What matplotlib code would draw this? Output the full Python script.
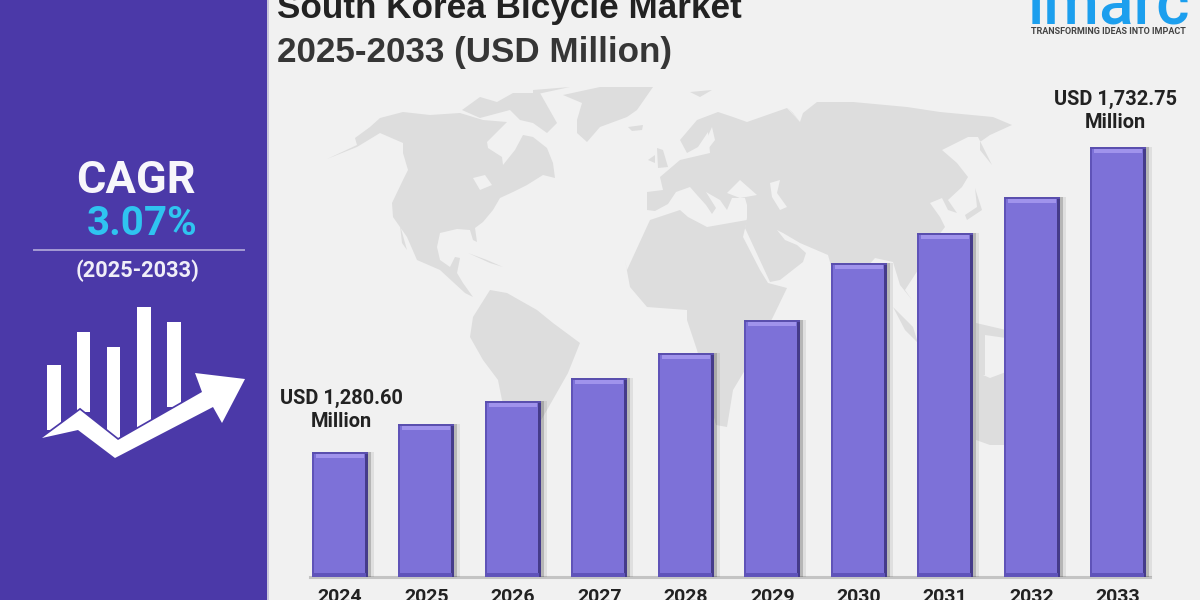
import matplotlib
matplotlib.use("Agg")
import matplotlib.pyplot as plt
from matplotlib.patches import Polygon, Rectangle

years = [2024, 2025, 2026, 2027, 2028, 2029, 2030, 2031, 2032, 2033]
market_size = [1280.60, 1322, 1356, 1390, 1427, 1476, 1561, 1605, 1659, 1732.75]

PANEL = "#4b39a8"
BG = "#f1f1f1"
LAND = "#dddddd"

# rough world map outlines, in image pixels
north_america = [(327, 159), (357, 145), (355, 138), (370, 127), (380, 118), (403, 112), (430, 115), (460, 113),
                 (483, 120), (507, 122), (487, 142), (488, 148), (502, 157), (503, 165), (515, 150), (523, 135),
                 (533, 137), (547, 148), (553, 163), (555, 178), (543, 175), (527, 185), (513, 192), (500, 198),
                 (493, 210), (483, 222), (475, 228), (477, 242), (473, 240), (470, 230), (457, 229), (440, 233),
                 (437, 247), (440, 260), (450, 267), (455, 257), (460, 258), (457, 273), (463, 283), (473, 297),
                 (465, 293), (453, 282), (440, 270), (417, 260), (407, 237), (393, 217), (392, 203), (403, 180),
                 (408, 170), (403, 153), (403, 143), (380, 133), (357, 147)]
baja = [(400, 225), (407, 250), (402, 243)]
arctic = [(462, 110), (480, 97), (497, 102), (513, 93), (540, 93), (557, 123), (547, 133), (533, 123), (520, 120),
          (510, 110), (480, 118)]
arctic_top = [(533, 90), (570, 87), (533, 95)]
greenland = [(563, 95), (600, 87), (653, 87), (637, 110), (627, 117), (600, 127), (587, 142), (577, 133), (577, 120),
             (582, 103)]
iceland = [(628, 127), (643, 125), (642, 130), (632, 131)]
britain = [(657, 148), (663, 150), (668, 167), (658, 168)]
ireland = [(648, 160), (655, 155), (655, 163)]
eurasia = [(647, 192), (647, 210), (655, 211), (668, 204), (676, 192), (690, 187), (697, 195), (706, 205), (712, 214),
           (716, 208), (706, 192), (720, 200), (727, 210), (732, 198), (745, 198), (747, 205), (747, 218), (745, 228),
           (770, 282), (780, 280), (803, 262), (806, 253), (797, 245), (785, 240), (777, 230), (783, 233), (800, 243),
           (828, 255), (835, 280), (845, 305), (860, 275), (875, 258), (893, 262), (900, 285), (912, 300), (905, 290),
           (918, 270), (935, 240), (945, 227), (940, 217), (930, 203), (942, 198), (948, 210), (957, 213), (948, 200),
           (962, 187), (968, 177), (957, 163), (942, 150), (968, 137), (978, 137), (992, 165), (980, 150), (980, 142),
           (990, 135), (1012, 125), (993, 117), (940, 112), (907, 107), (853, 102), (817, 102), (803, 113), (800, 122),
           (787, 108), (747, 122), (733, 117), (718, 112), (697, 120), (680, 140), (687, 153), (698, 147), (708, 132),
           (710, 153), (680, 160), (660, 177), (663, 190)]
japan = [(975, 188), (982, 210), (967, 220), (965, 215), (977, 207)]
novaya = [(788, 108), (800, 122), (793, 113)]
svalbard = [(690, 92), (712, 90), (700, 97)]
indonesia = [(893, 307), (913, 327), (918, 343), (905, 330)]
new_guinea = [(976, 323), (1006, 330), (1006, 338), (985, 335), (985, 375), (976, 375)]
australia = [(976, 372), (990, 378), (1006, 372), (1006, 445), (990, 445), (976, 440)]
africa = [(627, 270), (650, 220), (680, 210), (688, 217), (707, 227), (747, 220), (743, 237), (760, 270), (768, 283),
          (787, 288), (773, 317), (745, 370), (733, 390), (727, 427), (716, 425), (697, 350), (687, 320), (687, 310),
          (647, 307), (630, 287), (625, 260)]
south_america = [(490, 290), (473, 317), (470, 337), (483, 360), (498, 380), (502, 400), (510, 440), (537, 427),
                 (547, 410), (568, 373), (580, 343), (553, 323), (537, 310), (507, 293)]
cuba = [(468, 253), (487, 260), (503, 267), (490, 263)]
land_shapes = [north_america, baja, arctic, arctic_top, greenland, iceland, britain, ireland, eurasia, japan, novaya,
               svalbard, indonesia, new_guinea, australia, africa, south_america, cuba]

black_sea = [(727, 193), (740, 180), (757, 195), (740, 198)]
caspian = [(770, 183), (780, 180), (777, 193), (787, 207), (780, 210), (772, 197)]
baltic = [(712, 127), (703, 147), (697, 150), (705, 153), (715, 140)]
lakes = [(473, 178), (485, 175), (492, 185), (480, 190)]
water_shapes = [black_sea, caspian, baltic, lakes]

# cagr icon
icon_bars = [(47, 365, 14, 65), (77, 332, 13, 80), (107, 347, 13, 92), (137, 307, 14, 120), (167, 322, 14, 85)]
icon_arrow = [(42, 438), (80, 410), (118, 440), (202, 392), (195, 373), (245, 379), (222, 423), (213, 407), (115, 458),
              (78, 430)]

fig = plt.figure(figsize=(12, 6), dpi=100, facecolor=BG)

# background layer in pixel coordinates
bg = fig.add_axes([0, 0, 1, 1], zorder=0)
bg.set_xlim(0, 1200)
bg.set_ylim(600, 0)
bg.axis("off")

for shape in land_shapes:
    bg.add_patch(Polygon(shape, closed=True, fc=LAND, ec="none"))
for shape in water_shapes:
    bg.add_patch(Polygon(shape, closed=True, fc=BG, ec="none"))

bg.add_patch(Rectangle((0, 0), 267, 600, fc=PANEL, ec="none"))
bg.add_patch(Rectangle((267, 0), 2, 600, fc="#c9c6dc", ec="none"))
bg.plot([34, 244], [250, 250], color="#a59bd4", lw=1.4)

for x, y, w, h in icon_bars:
    bg.add_patch(Rectangle((x, y), w, h, fc="white", ec="none"))
bg.add_patch(Polygon(icon_arrow, closed=True, fc="white", ec=PANEL, lw=2.5, joinstyle="miter"))
bg.add_patch(Polygon(icon_arrow, closed=True, fc="white", ec="none"))

bg.text(136, 193, "CAGR", family="Roboto", weight="bold", fontsize=32.5, color="#f7f6fb", ha="center", va="baseline")
bg.text(142, 235, "3.07%", family="Roboto", weight="bold", fontsize=29, color="#2fc4f0", ha="center", va="baseline")
bg.text(138, 277, "(2025-2033)", family="Roboto", weight="bold", fontsize=15.7, color="#f0eef8", ha="center",
        va="baseline")

bg.text(277, 18, "South Korea Bicycle Market", family="Liberation Sans", weight="bold", fontsize=25.3, color="#222222",
        va="baseline")
bg.text(277, 62, "2025-2033 (USD Million)", family="Liberation Sans", weight="bold", fontsize=25.2, color="#363636",
        va="baseline")

bg.text(1108, 23, "imarc", family="Roboto", weight="medium", fontsize=46, color="#1c9fee", ha="center", va="baseline")
bg.text(1108, 34, "TRANSFORMING IDEAS INTO IMPACT", family="Roboto", weight="bold", fontsize=6.5, color="#444444",
        ha="center", va="baseline")

# bars on their own axes: year and USD scales line up with the picture
PX_PER_YEAR = 86.44
PX_PER_USD = 0.6746
BASE_USD = market_size[0] - 125 / PX_PER_USD
ax = fig.add_axes([268 / 1200, 23 / 600, 932 / 1200, 577 / 600], zorder=1)
ax.patch.set_alpha(0)
ax.set_xlim(years[0] - 72 / PX_PER_YEAR, years[0] + 860 / PX_PER_YEAR)
ax.set_ylim(BASE_USD, BASE_USD + 577 / PX_PER_USD)
for side in ax.spines.values():
    side.set_visible(False)

dx = 1 / PX_PER_YEAR
dy = 1 / PX_PER_USD
width = 56 * dx

ax.plot([years[0] - 30 * dx, years[-1] + 32 * dx], [BASE_USD, BASE_USD], color="#c4c4c4", lw=2.2, zorder=1,
        clip_on=False)

xs = years
heights = [v - BASE_USD for v in market_size]
# soft drop shadow to the right
ax.bar([x + 4 * dx for x in xs], heights, width=width + 4 * dx, bottom=BASE_USD, color="#000000", alpha=0.07, zorder=2)
ax.bar([x + 2 * dx for x in xs], heights, width=width + 2 * dx, bottom=BASE_USD, color="#000000", alpha=0.18, zorder=2)
# body
ax.bar(xs, heights, width=width, bottom=BASE_USD, color="#7d71d8", zorder=3)
# bevel edges
ax.bar([x - 27 * dx for x in xs], heights, width=2 * dx, bottom=BASE_USD, color="#5f53b8", zorder=4)
ax.bar([x + 26.5 * dx for x in xs], heights, width=3 * dx, bottom=BASE_USD, color="#453b8a", zorder=4)
ax.bar(xs, 4 * dy, width=width - 4 * dx, bottom=BASE_USD, color="#5f53ba", zorder=4)
ax.bar(xs, 2 * dy, width=width, bottom=[v - 2 * dy for v in market_size], color="#5a4fae", zorder=5)
ax.bar(xs, 4 * dy, width=width - 8 * dx, bottom=[v - 6 * dy for v in market_size], color="#a093ec", zorder=5)

ax.set_xticks(years)
ax.set_xticklabels([str(y) for y in years], family="Roboto", weight="bold", fontsize=14, color="#222222")
ax.tick_params(axis="x", length=0, pad=8)
ax.set_yticks([])

ax.annotate(f"USD {market_size[0]:,.2f}\nMillion", (years[0], market_size[0]), xytext=(1, 15), textcoords="offset points",
            ha="center", va="bottom", family="Roboto", weight="bold", fontsize=14.4, color="#222222", linespacing=1.25)
ax.annotate(f"USD {market_size[-1]:,.2f}\nMillion", (years[-1], market_size[-1]), xytext=(-2, 11), textcoords="offset points",
            ha="center", va="bottom", family="Roboto", weight="bold", fontsize=14.4, color="#222222", linespacing=1.25)

fig.savefig("out.png", dpi=100)
